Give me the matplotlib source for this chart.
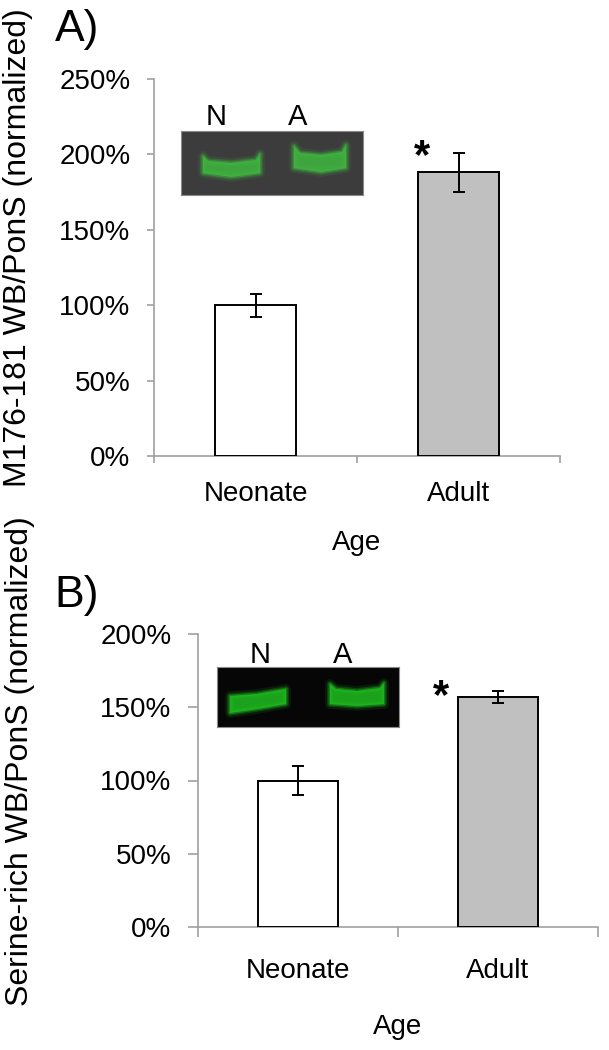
import matplotlib

matplotlib.use("Agg")
import matplotlib.pyplot as plt
from matplotlib.patches import Polygon

plt.rcParams["font.family"] = ["Liberation Sans", "DejaVu Sans"]

# --- data ---
AGES = ["Neonate", "Adult"]
M176_MEAN = [100, 188]        # % of neonate
M176_ERR = [7.5, 13]
SERINE_MEAN = [100, 157]
SERINE_ERR = [10, 4]
BAR_COLORS = ["white", "#c0c0c0"]

W, H = 609, 1050
GRID = "#a0a0a0"


def px_box(x0, y0, x1, y1):
    """pixel box (top-left origin) -> figure fraction rect"""
    return [x0 / W, 1 - y1 / H, (x1 - x0) / W, (y1 - y0) / H]


def bar_panel(ax, means, errs, ytop, ylabel, lab_xy, tick_len, xpad, age_y):
    x = [0.5, 1.5]
    ax.bar(x, means, width=0.4, color=BAR_COLORS, edgecolor="black",
           linewidth=1.4, zorder=3)
    ax.errorbar(x, means, yerr=errs, fmt="none", ecolor="black",
                elinewidth=1.4, capsize=4, capthick=1.4, zorder=4)
    ax.set_xlim(0, 2)
    ax.set_ylim(0, ytop)
    ax.set_yticks(range(0, ytop + 1, 50))
    ax.set_yticklabels([f"{v}%" for v in range(0, ytop + 1, 50)])
    ax.set_xticks([0, 1, 2])
    ax.set_xticklabels([])
    ax.set_xticks(x, AGES, minor=True)
    for s in ("top", "right"):
        ax.spines[s].set_visible(False)
    for s in ("left", "bottom"):
        ax.spines[s].set_color(GRID)
        ax.spines[s].set_linewidth(1.2)
    ax.tick_params(which="major", length=tick_len, width=1.2, color=GRID,
                   labelsize=20, pad=12)
    ax.tick_params(axis="x", which="minor", length=0, labelsize=20, pad=xpad)
    ax.set_xlabel("Age", fontsize=20, va="center")
    ax.xaxis.set_label_coords(0.5, age_y)
    ax.text(lab_xy[0], lab_xy[1], ylabel, transform=ax.transAxes,
            rotation=90, ha="center", va="center", fontsize=23)


def blot(rect, bg, green, bands):
    ax = fig.add_axes(rect)
    ax.set_xlim(0, 182)
    ax.set_ylim(rect[3] * H, 0)
    ax.set_facecolor(bg)
    ax.set_xticks([])
    ax.set_yticks([])
    for s in ax.spines.values():
        s.set_color("#8a8a8a")
        s.set_linewidth(0.8)
    for pts in bands:
        # soft glow then body, to mimic a blurred band
        for lw, a in ((7, 0.12), (4, 0.25), (2, 0.45)):
            ax.add_patch(Polygon(pts, closed=True, facecolor="none",
                                 edgecolor=green, linewidth=lw, alpha=a,
                                 joinstyle="round"))
        ax.add_patch(Polygon(pts, closed=True, facecolor=green,
                             edgecolor="none", alpha=0.85))


fig = plt.figure(figsize=(W / 100, H / 100), dpi=100)

# panel A
axA = fig.add_axes(px_box(154, 79, 560, 456))
bar_panel(axA, M176_MEAN, M176_ERR, 250, "M176-181 WB/PonS (normalized)",
          (-0.335, 0.554), 5, 18, -0.231)
axA.text(1.32, 198, "*", fontsize=30, fontweight="bold", ha="center",
         va="center")
fig.text(77 / W, 1 - 30 / H, "A)", fontsize=32, ha="center", va="center")

# panel B
axB = fig.add_axes(px_box(198, 634, 598, 927))
bar_panel(axB, SERINE_MEAN, SERINE_ERR, 200, "Serine-rich WB/PonS (normalized)",
          (-0.445, 0.565), 7, 22, -0.341)
axB.text(1.215, 157, "*", fontsize=30, fontweight="bold", ha="center",
         va="center")
fig.text(77 / W, 1 - 595 / H, "B)", fontsize=32, ha="center", va="center")

# western blot insets
blot(px_box(181, 131, 363, 195), "#3c3c3c", "#3fb83f", [
    [(22, 25), (27, 30), (50, 32), (75, 29), (79, 23), (79, 42), (50, 46), (22, 42)],
    [(113, 15), (119, 22), (140, 24), (161, 21), (165, 14), (165, 37), (140, 41), (113, 37)],
])
blot(px_box(217, 667, 399, 727), "#060606", "#1fbd1f", [
    [(13, 29), (40, 27), (69, 22), (69, 37), (40, 42), (13, 46)],
    [(113, 17), (119, 22), (140, 24), (163, 21), (167, 16), (167, 37), (140, 39), (113, 37)],
])
for x, y, t in [(216, 117, "N"), (298, 117, "A"), (260, 655, "N"), (343, 655, "A")]:
    fig.text(x / W, 1 - y / H, t, fontsize=21, ha="center", va="center")

fig.savefig("out.png", dpi=100)
